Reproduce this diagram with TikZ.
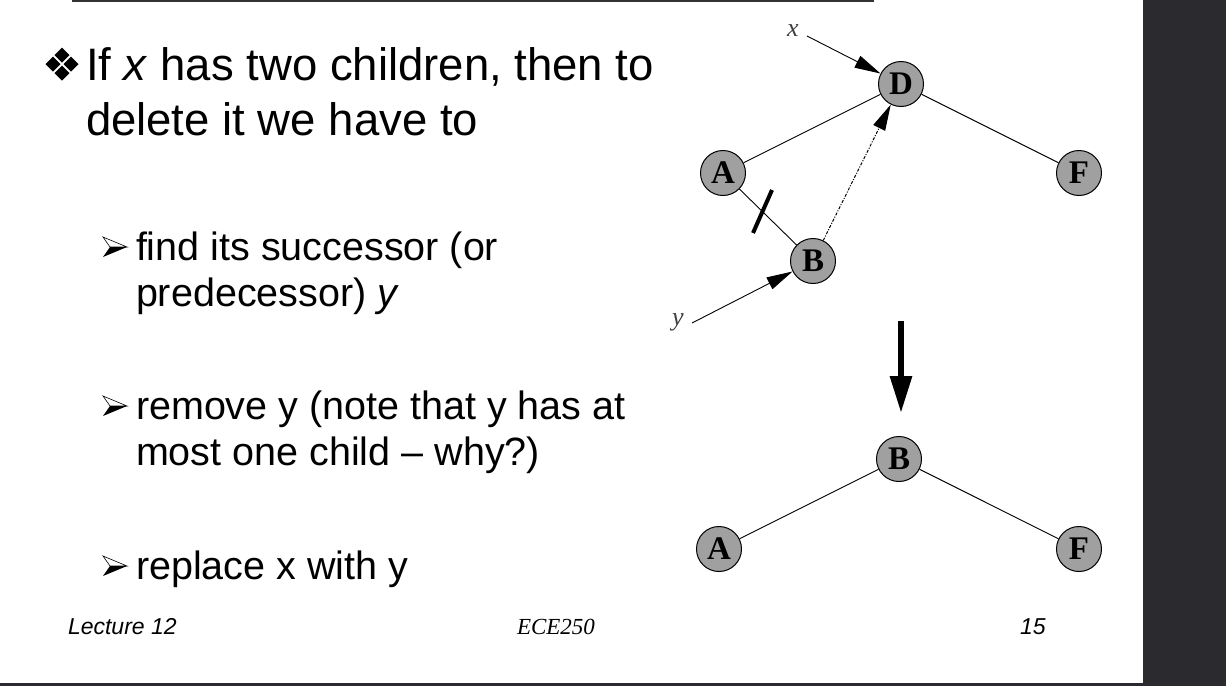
\documentclass[tikz,border=0pt]{standalone}
\usepackage{fontspec}
\setmainfont{Liberation Sans}
\newfontfamily\serifface{Liberation Serif}
\usetikzlibrary{arrows.meta}
\definecolor{darkbar}{HTML}{2B2A2F}
\definecolor{nodegray}{HTML}{A0A0A0}
\definecolor{rulegray}{HTML}{333333}
\begin{document}
\begin{tikzpicture}[x=1pt,y=-1pt,
  txt/.style={anchor=base west,inner sep=0pt,outer sep=0pt},
  mainfont/.style={font=\fontsize{45.5}{54}\selectfont},
  subfont/.style={font=\fontsize{39.5}{46}\selectfont},
  footfont/.style={font=\fontsize{23}{26}\selectfont},
  tnode/.style={circle,draw=black,line width=1pt,fill=nodegray,
    minimum size=45pt,inner sep=0pt,font=\serifface\bfseries\fontsize{33}{33}\selectfont},
  edge/.style={line width=0.9pt,draw=black},
  ptr/.style={line width=0.9pt,draw=black,-{Triangle[length=26pt,width=13pt]}},
  varlabel/.style={inner sep=0pt,text=black!75,font=\serifface\itshape\fontsize{26}{26}\selectfont},
  pics/arrowbullet/.style={code={
    \draw[line width=0.6pt,fill=white] (-24,-10) -- (0,0) -- (-17,0) -- cycle;
    \fill (-17,0) -- (0,0) -- (-24,10) -- cycle;}},
  pics/diamondbullet/.style={code={
    \foreach \dx/\dy in {0/-9,-9/0,9/0,0/9}
      \fill (\dx,\dy-7.5) -- (\dx+7.5,\dy) -- (\dx,\dy+7.5) -- (\dx-7.5,\dy) -- cycle;}}
]
% page and frame
\useasboundingbox (0,0) rectangle (1226,686);
\fill[white] (0,0) rectangle (1226,686);
\fill[darkbar] (1143,0) rectangle (1226,686);
\fill[darkbar] (0,683) rectangle (1226,686);
\draw[rulegray,line width=2pt] (72,1) -- (874,1);

% main bullet text
\pic at (62,64) {diamondbullet};
\node[txt,mainfont] (l1) at (86,80) {If \textit{x} has two children, then to};
\node[txt,mainfont] (l2) at (86,135) {delete it we have to};

% sub bullets
\pic at (127,247) {arrowbullet};
\node[txt,subfont] (s1a) at (136,260) {find its successor (or};
\node[txt,subfont] (s1b) at (136,306) {predecessor) \textit{y}};
\pic at (127,406) {arrowbullet};
\node[txt,subfont] (s2a) at (136,419) {remove y (note that y has at};
\node[txt,subfont] (s2b) at (136,465) {most one child -- why?)};
\pic at (127,566) {arrowbullet};
\node[txt,subfont] (s3) at (136,579) {replace x with y};

% footer
\node[txt,footfont] (lec) at (68,634) {\itshape Lecture 12};
\node[txt,footfont] (course) at (517,634) {\serifface\itshape ECE250};
\node[txt,footfont] (page) at (1020,634) {\itshape 15};

% tree before deletion
\node[tnode] (D) at (901,84) {D};
\node[tnode] (A) at (723,173) {A};
\node[tnode] (F) at (1079,173) {F};
\node[tnode] (B) at (813,261) {B};
\node[varlabel] (xl) at (793,31) {x};
\node[varlabel] (yl) at (678,322) {y};
\coordinate (xs) at (807,36);
\coordinate (ys) at (692,323);
\draw[edge] (A) -- (D);
\draw[edge] (D) -- (F);
\draw[edge] (A) -- (B);
\draw[ptr] (xs) -- (D);
\draw[ptr] (ys) -- (B);
\draw[ptr,line width=1pt,dash pattern=on 3pt off 1.5pt on 1pt off 1.5pt] (B) -- (D);
% cut mark on the A--B link
\draw[line width=4pt] (772,190) -- (753,233);

% transformation arrow
\coordinate (ds) at (901,321);
\coordinate (de) at (901,413);
\draw[line width=6pt,-{Triangle[length=37pt,width=21pt]}] (ds) -- (de);

% tree after deletion
\node[tnode] (B2) at (899,459) {B};
\node[tnode] (A2) at (719,549) {A};
\node[tnode] (F2) at (1079,549) {F};
\draw[edge] (B2) -- (A2);
\draw[edge] (B2) -- (F2);
\end{tikzpicture}
\end{document}
